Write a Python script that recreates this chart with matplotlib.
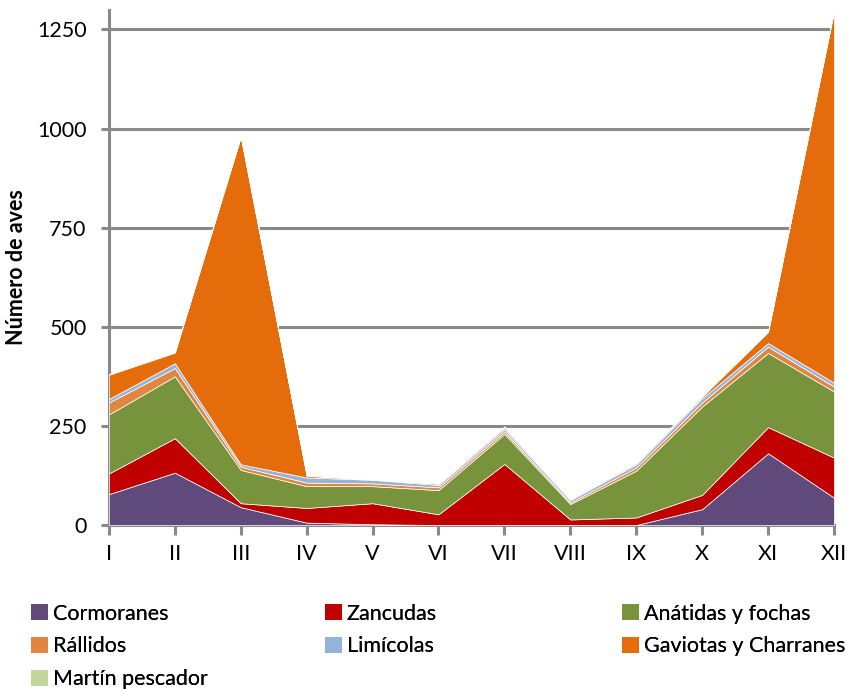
import matplotlib
matplotlib.use('Agg')
import matplotlib.pyplot as plt
import numpy as np
from matplotlib.patches import Patch

plt.rcParams['font.family'] = ['Lato', 'DejaVu Sans']

months = ['I', 'II', 'III', 'IV', 'V', 'VI', 'VII', 'VIII', 'IX', 'X', 'XI', 'XII']

cormoranes = [78, 132, 45, 6, 2, 0, 0, 0, 0, 40, 181, 69]
zancudas = [52, 87, 10, 37, 53, 27, 154, 14, 19, 36, 66, 101]
anatidas = [149, 156, 84, 55, 43, 61, 76, 39, 118, 223, 187, 167]
rallidos = [30, 21, 8, 9, 7, 7, 6, 4, 8, 10, 16, 12]
limicolas = [9, 12, 6, 13, 9, 6, 6, 6, 8, 11, 9, 10]
gaviotas = [61, 27, 826, 4, 1, 3, 4, 2, 3, 4, 28, 937]
martin = [2, 2, 2, 1, 1, 1, 3, 2, 2, 3, 2, 2]

names = ['Cormoranes', 'Zancudas', 'Anátidas y fochas', 'Rállidos',
         'Limícolas', 'Gaviotas y Charranes', 'Martín pescador']
colors = ['#604A7B', '#C00000', '#77933C', '#E0863E', '#95B3D7', '#E46C0A', '#C3D69B']

series = [cormoranes, zancudas, anatidas, rallidos, limicolas, gaviotas, martin]

fig = plt.figure(figsize=(8.51, 6.89), dpi=100)
ax = fig.add_axes([0.128, 0.238, 0.852, 0.748])

x = np.arange(len(months))
ax.stackplot(x, *series, colors=colors, edgecolor='white', linewidth=0.5, zorder=3)

ax.set_xlim(0, 11)
ax.set_ylim(0, 1300)
ax.set_yticks([0, 250, 500, 750, 1000, 1250])
ax.set_xticks(x)
ax.set_xticklabels(months)

ax.yaxis.grid(True, color='#898989', linewidth=2.2, zorder=0)
ax.set_axisbelow(True)

for s in ['top', 'right']:
    ax.spines[s].set_visible(False)
for s in ['left', 'bottom']:
    ax.spines[s].set_color('#898989')
    ax.spines[s].set_linewidth(2.2)

ax.tick_params(axis='y', direction='inout', length=12, width=2.2, color='#898989',
               labelsize=15.5, pad=10)
ax.tick_params(axis='x', direction='out', length=7, width=2.2, color='#898989',
               labelsize=15.5, pad=7)

ax.set_ylabel('Número de aves', fontsize=15.5, fontweight='bold', va='center')
ax.yaxis.set_label_coords(-0.127, 0.5)

# legend laid out in three columns as in the original
handles = [Patch(facecolor=c, edgecolor='none') for c in colors]
cols = [([0, 3, 6], 0.0364), ([1, 4], 0.382), ([2, 5], 0.731)]
for idx, xpos in cols:
    leg = fig.legend([handles[i] for i in idx], [names[i] for i in idx],
                     loc='upper left', bbox_to_anchor=(xpos, 0.124), frameon=False,
                     fontsize=15.5, handlelength=0.8, handleheight=0.8,
                     handletextpad=0.2, labelspacing=0.6, borderaxespad=0,
                     borderpad=0)
    fig.add_artist(leg)

fig.savefig('out.png', dpi=100)
